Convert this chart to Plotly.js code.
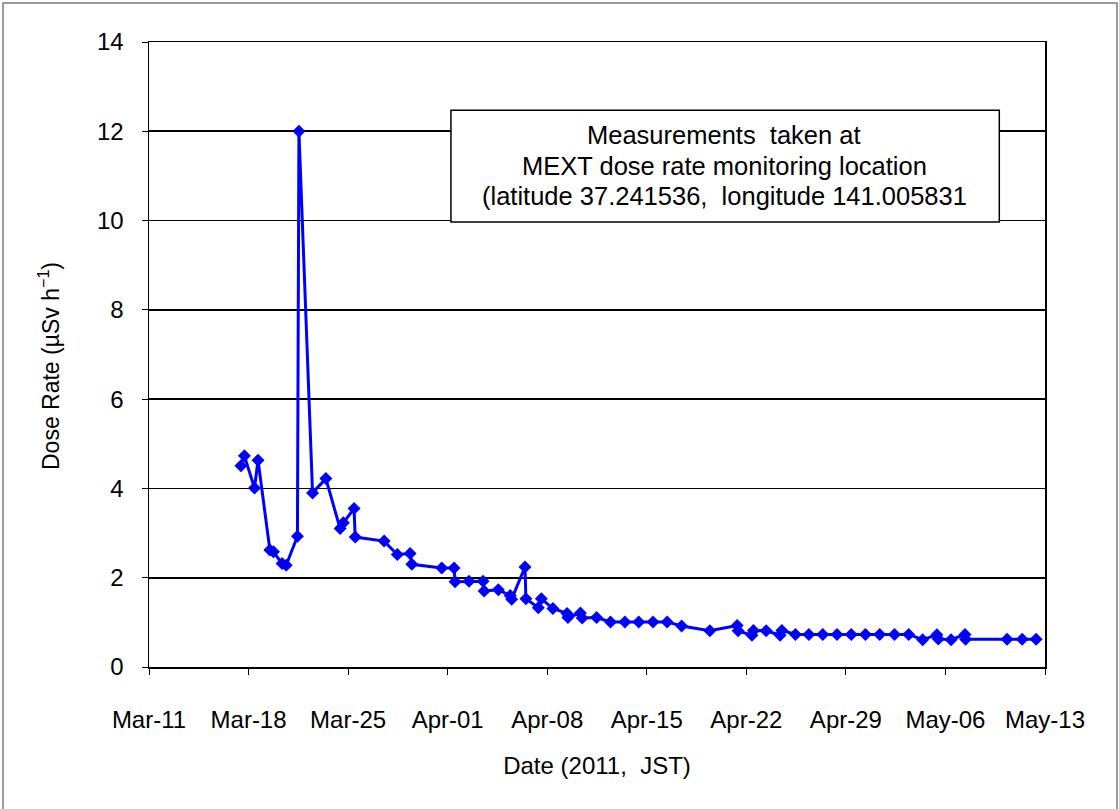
<!DOCTYPE html>
<html>
<head>
<meta charset="utf-8">
<script src="https://cdn.plot.ly/plotly-3.0.1.min.js"></script>
<style>
html,body{margin:0;padding:0;background:#fff;}
#wrap{position:relative;width:1119px;height:809px;overflow:hidden;}
#chart{position:absolute;left:0;top:0;width:1119px;height:809px;}
#frame{position:absolute;left:2px;top:2px;width:1112px;height:820px;border:2px solid #9a9a9a;pointer-events:none;}
</style>
</head>
<body>
<div id="wrap"><div id="chart"></div><div id="frame"></div></div>
<script>
// Measurement times (2011, JST) and dose rates (µSv/h)
const times = [
  "2011-03-17 11:00","2011-03-17 17:00","2011-03-18 10:00","2011-03-18 16:00",
  "2011-03-19 12:00","2011-03-19 18:00","2011-03-20 08:30","2011-03-20 15:30",
  "2011-03-21 10:30","2011-03-21 13:00","2011-03-22 12:00","2011-03-23 10:30",
  "2011-03-24 10:30","2011-03-24 16:00","2011-03-25 10:00","2011-03-25 12:00",
  "2011-03-27 12:45","2011-03-28 11:00","2011-03-29 08:30","2011-03-29 11:30",
  "2011-03-31 14:00","2011-04-01 10:45","2011-04-01 12:30","2011-04-02 12:00",
  "2011-04-03 11:45","2011-04-03 13:30","2011-04-04 13:30","2011-04-05 09:30",
  "2011-04-05 12:00","2011-04-06 10:30","2011-04-06 12:00","2011-04-07 09:00",
  "2011-04-07 14:00","2011-04-08 09:30","2011-04-09 09:30","2011-04-09 11:00",
  "2011-04-10 08:00","2011-04-10 11:00","2011-04-11 11:15","2011-04-12 10:45",
  "2011-04-13 11:00","2011-04-14 10:30","2011-04-15 10:30","2011-04-16 10:20",
  "2011-04-17 10:50","2011-04-19 10:20","2011-04-21 08:30","2011-04-21 10:00",
  "2011-04-22 09:30","2011-04-22 12:00","2011-04-23 09:30","2011-04-24 09:00",
  "2011-04-24 12:00","2011-04-25 10:50","2011-04-26 09:30","2011-04-27 09:00",
  "2011-04-28 09:00","2011-04-29 09:00","2011-04-30 09:00","2011-05-01 09:00",
  "2011-05-02 10:00","2011-05-03 10:00","2011-05-04 09:30","2011-05-05 09:30",
  "2011-05-05 12:00","2011-05-06 09:30","2011-05-07 09:00","2011-05-07 10:00",
  "2011-05-10 08:00","2011-05-11 09:30","2011-05-12 09:00"
];
const doseRate = [
  4.51,4.73,4.01,4.63,
  2.62,2.58,2.32,2.28,
  2.93,12.0,3.90,4.22,
  3.10,3.23,3.55,2.91,
  2.82,2.52,2.54,2.30,
  2.22,2.22,1.91,1.92,
  1.92,1.70,1.73,1.60,
  1.52,2.24,1.53,1.33,
  1.53,1.31,1.20,1.11,
  1.21,1.10,1.11,1.01,
  1.01,1.01,1.01,1.01,
  0.92,0.81,0.93,0.81,
  0.71,0.82,0.81,0.71,
  0.82,0.73,0.73,0.73,
  0.73,0.73,0.73,0.73,
  0.73,0.73,0.61,0.72,
  0.63,0.61,0.73,0.62,
  0.62,0.62,0.62
];
const tickDates = ["2011-03-11","2011-03-18","2011-03-25","2011-04-01","2011-04-08",
  "2011-04-15","2011-04-22","2011-04-29","2011-05-06","2011-05-13"];
const tickLabels = ["Mar-11","Mar-18","Mar-25","Apr-01","Apr-08",
  "Apr-15","Apr-22","Apr-29","May-06","May-13"];
const yTicks = [0, 2, 4, 6, 8, 10, 12, 14];
const noteLines = ["Measurements  taken at","MEXT dose rate monitoring location","(latitude 37.241536,  longitude 141.005831"];
const xTitle = "Date (2011,  JST)";
const yTitle = "Dose Rate (µSv h<sup>−1</sup>)";

const FONT = "Liberation Sans, Arial, sans-serif";

const trace = {
  x: times, y: doseRate, type: "scatter", mode: "lines+markers",
  line: {color: "#0000ff", width: 3},
  marker: {symbol: "diamond", size: 10, color: "#0000ff"},
  hoverinfo: "x+y"
};

const noteY = [0.8504, 0.8024, 0.7528];
const annotations = noteLines.map((t, i) => ({
  text: t, xref: "paper", yref: "paper", x: 0.642, y: noteY[i],
  xanchor: "center", yanchor: "middle", showarrow: false,
  font: {family: FONT, size: 25.5, color: "#000"}
}));
annotations.push({
  text: yTitle, xref: "paper", yref: "paper", x: -0.1116, y: 0.4816,
  xanchor: "center", yanchor: "middle", textangle: -90, showarrow: false,
  font: {family: FONT, size: 23, color: "#000"}
});

const layout = {
  width: 1119, height: 809,
  margin: {l: 149, r: 74, t: 42, b: 142},
  paper_bgcolor: "#fff", plot_bgcolor: "#fff",
  showlegend: false,
  font: {family: FONT, size: 24, color: "#000"},
  xaxis: {
    type: "date", range: ["2011-03-11", "2011-05-13"],
    tickvals: tickDates, ticktext: tickLabels,
    ticks: "outside", ticklen: 6, tickwidth: 1, tickcolor: "#000",
    ticklabelstandoff: 25,
    showgrid: false, zeroline: false,
    showline: true, linecolor: "#000", linewidth: 1.5, mirror: true,
    tickfont: {family: FONT, size: 24, color: "#000"},
    title: {text: xTitle, font: {family: FONT, size: 24, color: "#000"}, standoff: 25}
  },
  yaxis: {
    range: [0, 14], tickvals: yTicks,
    ticks: "outside", ticklen: 6, tickwidth: 1, tickcolor: "#000",
    ticklabelstandoff: 13,
    showgrid: true, gridcolor: "#000", gridwidth: 1.8,
    zeroline: false,
    showline: true, linecolor: "#000", linewidth: 1.5, mirror: true,
    tickfont: {family: FONT, size: 24, color: "#000"}
  },
  shapes: [{
    type: "rect", xref: "paper", yref: "paper",
    x0: 0.337, x1: 0.949, y0: 0.712, y1: 0.891,
    fillcolor: "#fff", line: {color: "#000", width: 1.5}, layer: "above"
  }],
  annotations: annotations
};

Plotly.newPlot("chart", [trace], layout, {displayModeBar: false, staticPlot: true});
</script>
</body>
</html>
